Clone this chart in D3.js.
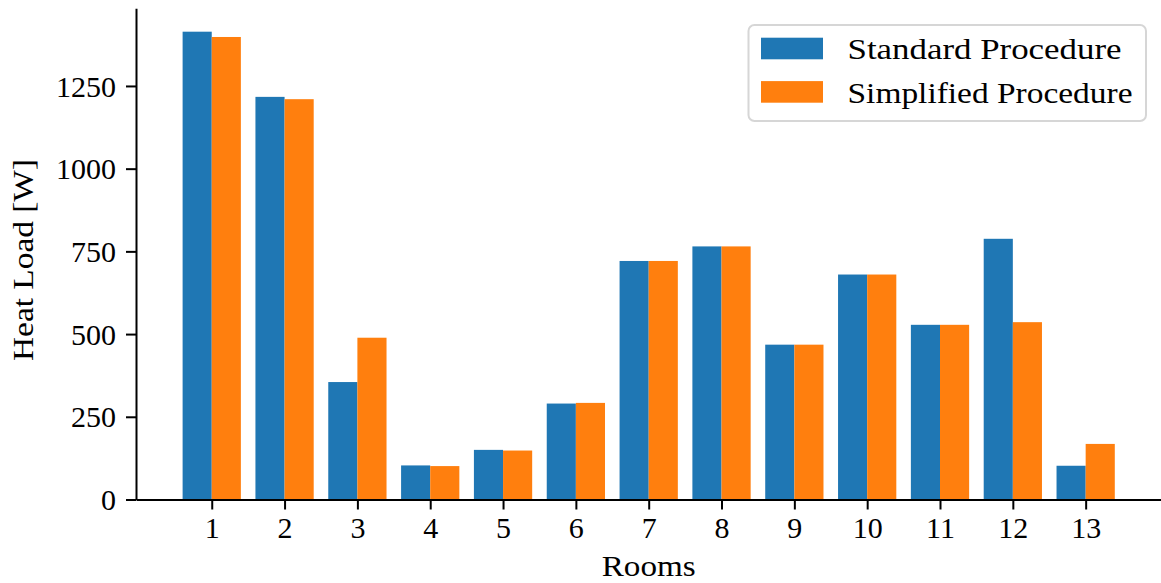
<!DOCTYPE html>
<html>
<head>
<meta charset="utf-8">
<script src="https://cdn.jsdelivr.net/npm/d3@7"></script>
<style>
  body { margin: 0; background: #fff; }
  svg text { font-family: "Liberation Serif", "Times New Roman", serif; fill: #000; }
</style>
</head>
<body>
<svg id="chart" width="1161" height="583"></svg>
<script>
var rooms = ["1", "2", "3", "4", "5", "6", "7", "8", "9", "10", "11", "12", "13"];
var standard = [1414, 1217, 355, 103, 150, 290, 721, 765, 468, 680, 528, 788, 102];
var simplified = [1398, 1210, 489, 101, 148, 292, 721, 765, 468, 680, 528, 536, 168];
var yTicks = [0, 250, 500, 750, 1000, 1250];
var seriesNames = ["Standard Procedure", "Simplified Procedure"];
var colors = ["#1f77b4", "#ff7f0e"];

var svg = d3.select("#chart");
var plotLeft = 136, plotRight = 1161.4, plotTop = 8.3, plotBottom = 499.5;
var barW = 0.4;

// matplotlib style 5% margins on both axes
var n = rooms.length;
var span = (n - 1) + 2 * barW;
var x = d3.scaleLinear()
    .domain([-barW - 0.05 * span, n - 1 + barW + 0.05 * span])
    .range([plotLeft, plotRight]);
var ymax = d3.max(standard.concat(simplified)) * 1.05;
var y = d3.scaleLinear().domain([0, ymax]).range([plotBottom, plotTop]);

var series = [standard, simplified];
series.forEach(function(vals, s) {
    svg.append("g").selectAll("rect")
        .data(vals)
        .enter()
        .append("rect")
        .attr("x", function(d, i) { return x(i - barW + s * barW); })
        .attr("width", x(barW) - x(0))
        .attr("y", function(d) { return y(d); })
        .attr("height", function(d) { return y(0) - y(d); })
        .attr("fill", colors[s]);
});

// axes
var xAxis = d3.axisBottom(x)
    .tickValues(d3.range(n))
    .tickFormat(function(d) { return rooms[d]; })
    .tickSize(10)
    .tickPadding(7)
    .tickSizeOuter(0);
var gx = svg.append("g").attr("transform", "translate(0," + plotBottom + ")").call(xAxis);

var yAxis = d3.axisLeft(y)
    .tickValues(yTicks)
    .tickFormat(d3.format("d"))
    .tickSize(10)
    .tickPadding(10)
    .tickSizeOuter(0);
var gy = svg.append("g").attr("transform", "translate(" + plotLeft + ",0)").call(yAxis);

[gx, gy].forEach(function(g) {
    g.select(".domain").attr("stroke", "#000").attr("stroke-width", 2);
    g.selectAll(".tick line").attr("stroke", "#000").attr("stroke-width", 2);
    g.selectAll(".tick text").attr("font-size", 30).attr("font-family", "Liberation Serif");
});
gx.selectAll(".tick text").attr("dy", "0.71em");
gy.selectAll(".tick text").attr("dy", "0.34em");

// axis labels
svg.append("text")
    .attr("x", (plotLeft + plotRight) / 2)
    .attr("y", 576)
    .attr("text-anchor", "middle")
    .attr("font-size", 30)
    .attr("textLength", 94)
    .attr("lengthAdjust", "spacingAndGlyphs")
    .text("Rooms");

svg.append("text")
    .attr("transform", "translate(33,260) rotate(-90)")
    .attr("text-anchor", "middle")
    .attr("font-size", 30)
    .attr("textLength", 202)
    .attr("lengthAdjust", "spacingAndGlyphs")
    .text("Heat Load [W]");

// legend
var lg = svg.append("g");
lg.append("rect")
    .attr("x", 748.5).attr("y", 25)
    .attr("width", 397.5).attr("height", 96)
    .attr("rx", 6).attr("ry", 6)
    .attr("fill", "#fff").attr("fill-opacity", 0.8)
    .attr("stroke", "#d6d6d6").attr("stroke-width", 2);

var legendLens = [274, 285];
seriesNames.forEach(function(name, i) {
    var yy = 37.7 + i * 43.4;
    lg.append("rect")
        .attr("x", 761).attr("y", yy)
        .attr("width", 62).attr("height", 21.6)
        .attr("fill", colors[i]);
    lg.append("text")
        .attr("x", 847.5)
        .attr("y", yy + 21.6)
        .attr("font-size", 30)
        .attr("textLength", legendLens[i])
        .attr("lengthAdjust", "spacingAndGlyphs")
        .text(name);
});
</script>
</body>
</html>
